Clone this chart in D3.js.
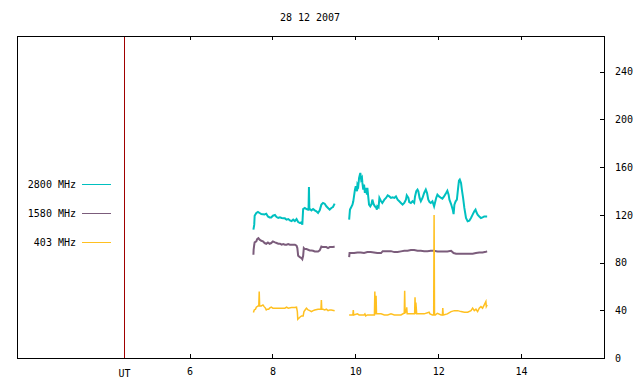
<!DOCTYPE html>
<html>
<head>
<meta charset="utf-8">
<script src="https://d3js.org/d3.v7.min.js"></script>
<style>
  body { margin: 0; background: #fff; }
  svg { display: block; }
  text { font-family: "DejaVu Sans Mono", monospace; font-size: 10px; fill: #000; }
</style>
</head>
<body>
<div class="chart"></div>
<script>
// radio flux, 28 12 2007 -- [UT hours, value]
var title = "28 12 2007";
var xTicks = [6, 8, 10, 12, 14];
var yTicks = [0, 40, 80, 120, 160, 200, 240];
var utHour = 4.43;
var names = ["2800 MHz", "1580 MHz", "403 MHz"];
var colors = ["#00c0c0", "#7b5c7b", "#ffc020"];

var f2800a = [[7.54,107.6],[7.56,111.8],[7.57,119.3],[7.61,121.6],[7.65,122.4],[7.69,121.6],[7.73,120.7],[7.81,120.4],[7.85,121],[7.89,118.7],[7.93,117.9],[7.97,117.9],[8.01,119.3],[8.06,119.9],[8.10,118.2],[8.14,117.4],[8.18,117.9],[8.22,117.4],[8.26,117.1],[8.30,117.1],[8.34,116],[8.38,116.5],[8.42,115.4],[8.46,114.8],[8.50,116],[8.54,114.8],[8.58,116.5],[8.62,114],[8.66,113.2],[8.70,113.7],[8.72,111.8],[8.74,124.9],[8.78,125.8],[8.82,124.9],[8.86,124.4],[8.87,124.4],[8.88,143.4],[8.89,124.9],[8.90,124.9],[8.94,123.8],[8.98,124.9],[9.02,123.8],[9.06,123],[9.10,121.6],[9.14,123.8],[9.18,128.6],[9.22,130],[9.26,129.4],[9.30,127.2],[9.34,125.8],[9.38,124.4],[9.42,125.8],[9.46,126.6],[9.50,129.4]];
var f2800b = [[9.85,116.0],[9.87,124.4],[9.89,125.8],[9.93,128.6],[9.95,131.4],[9.99,141.2],[10.01,144.0],[10.04,139.8],[10.05,145.4],[10.07,144.0],[10.09,151.0],[10.11,153.8],[10.12,155.2],[10.14,149.6],[10.16,151.0],[10.17,146.8],[10.19,141.2],[10.21,145.4],[10.23,138.4],[10.25,142.6],[10.28,137.0],[10.29,142.6],[10.31,135.5],[10.33,128.6],[10.36,127.2],[10.39,129.1],[10.41,132.8],[10.44,129.1],[10.47,127.2],[10.50,126.3],[10.52,124.4],[10.53,127.2],[10.56,126.3],[10.58,134.2],[10.62,131.4],[10.65,130.0],[10.70,132.8],[10.74,134.2],[10.78,136.4],[10.82,135.5],[10.86,134.2],[10.90,134.7],[10.94,134.2],[10.98,135.5],[11.02,132.8],[11.06,131.4],[11.10,130.0],[11.14,128.6],[11.18,130.0],[11.22,132.8],[11.24,136.4],[11.28,134.2],[11.30,130.8],[11.34,130.0],[11.38,131.4],[11.42,130.0],[11.44,135.5],[11.47,139.8],[11.50,141.2],[11.52,139.8],[11.55,134.2],[11.58,131.4],[11.62,134.2],[11.66,138.4],[11.70,141.2],[11.73,138.4],[11.76,132.8],[11.79,130.8],[11.82,130.0],[11.86,131.4],[11.90,127.2],[11.92,130.0],[11.95,134.2],[11.98,137.0],[12.02,135.5],[12.07,134.2],[12.10,133.6],[12.14,135.5],[12.19,138.4],[12.22,140.3],[12.25,137.0],[12.27,132.8],[12.31,129.1],[12.35,124.4],[12.37,120.7],[12.39,128.6],[12.42,131.4],[12.45,132.8],[12.48,142.6],[12.50,148.7],[12.52,149.6],[12.55,146.8],[12.57,141.2],[12.60,134.2],[12.63,125.8],[12.67,117.4],[12.71,114.6],[12.75,115.1],[12.79,117.4],[12.83,120.2],[12.87,123.0],[12.90,124.4],[12.92,122.4],[12.95,120.2],[12.99,118.7],[13.03,117.4],[13.07,117.9],[13.11,118.7],[13.15,118.7],[13.18,118.7]];

var f1580a = [[7.54,86.6],[7.545,90.8],[7.56,95.0],[7.57,96.9],[7.61,97.8],[7.63,99.7],[7.66,100.5],[7.69,99.2],[7.73,98.3],[7.77,97.8],[7.81,96.4],[7.85,95.8],[7.89,96.9],[7.93,95.8],[7.97,96.4],[8.01,97.8],[8.06,96.9],[8.10,96.4],[8.14,95.8],[8.18,95.8],[8.22,95.0],[8.26,95.5],[8.30,95.0],[8.34,95.0],[8.38,95.5],[8.42,95.0],[8.46,95.0],[8.50,95.0],[8.54,95.0],[8.58,94.1],[8.60,92.2],[8.62,85.7],[8.66,84.6],[8.70,83.8],[8.72,82.9],[8.74,85.7],[8.756,92.2],[8.78,91.3],[8.82,91.3],[8.86,90.8],[8.90,90.2],[8.94,90.2],[8.98,89.9],[9.02,89.3],[9.06,89.3],[9.10,89.3],[9.14,90.2],[9.18,93.5],[9.22,93.0],[9.26,93.0],[9.30,93.0],[9.34,92.2],[9.38,93.0],[9.42,93.0],[9.46,93.0],[9.50,93.5]];
var f1580b = [[9.85,84.6],[9.86,88.0],[9.89,88.0],[9.97,88.0],[10.05,88.5],[10.13,88.5],[10.21,88.0],[10.29,88.8],[10.37,88.8],[10.45,88.5],[10.53,88.0],[10.62,88.0],[10.66,89.6],[10.70,89.6],[10.78,89.6],[10.86,89.6],[10.94,88.8],[11.02,88.8],[11.10,89.4],[11.18,89.9],[11.26,89.9],[11.34,90.5],[11.42,90.5],[11.50,89.9],[11.58,89.9],[11.66,89.6],[11.74,89.6],[11.82,89.9],[11.90,89.9],[11.98,89.4],[12.07,89.4],[12.14,89.4],[12.22,89.4],[12.31,89.9],[12.37,88.0],[12.43,87.4],[12.51,87.4],[12.59,87.4],[12.67,87.4],[12.75,87.4],[12.83,87.4],[12.91,88.0],[12.99,88.5],[13.07,88.5],[13.15,89.1],[13.18,89.4]];

var f403a = [[7.54,38.1],[7.56,40.3],[7.59,40.9],[7.61,42.6],[7.65,43.7],[7.67,43.7],[7.68,55.7],[7.69,43.7],[7.73,43.7],[7.77,44.5],[7.80,43.1],[7.83,41.8],[7.85,40.3],[7.88,40.9],[7.91,40.9],[7.93,41.8],[7.97,42.6],[8.01,41.8],[8.06,41.8],[8.14,41.8],[8.22,41.8],[8.30,41.8],[8.34,42.6],[8.38,41.8],[8.46,42.3],[8.54,42.3],[8.58,42.6],[8.60,38.9],[8.61,32.5],[8.66,34.2],[8.70,35.3],[8.74,35.3],[8.76,38.9],[8.80,40.9],[8.82,41.8],[8.86,40.3],[8.90,39.7],[8.94,38.9],[8.98,39.7],[9.02,40.3],[9.10,40.9],[9.14,40.9],[9.17,40.9],[9.18,48.7],[9.19,40.9],[9.22,40.9],[9.26,40.3],[9.30,40.9],[9.34,39.7],[9.38,40.3],[9.42,40.3],[9.50,39.7]];
var f403b = [[9.85,36.1],[9.93,36.1],[9.94,36.1],[9.95,40.3],[9.96,36.1],[10.05,37.0],[10.09,36.1],[10.21,36.1],[10.23,37.0],[10.25,35.3],[10.29,36.1],[10.37,36.1],[10.45,36.1],[10.46,36.1],[10.47,55.7],[10.48,37.0],[10.49,37.0],[10.50,52.1],[10.51,37.0],[10.62,37.0],[10.70,36.1],[10.78,36.1],[10.86,37.0],[10.94,36.1],[11.02,36.1],[11.10,36.1],[11.17,37.5],[11.18,37.5],[11.19,56.3],[11.20,37.5],[11.22,38.9],[11.23,38.9],[11.24,42.6],[11.25,37.0],[11.34,37.0],[11.43,37.0],[11.44,51.0],[11.45,37.0],[11.46,46.5],[11.48,37.0],[11.58,37.0],[11.66,37.0],[11.78,38.4],[11.80,37.0],[11.86,36.1],[11.89,36.1],[11.90,120],[11.91,36.1],[11.93,36.1],[11.98,37.5],[12.07,36.1],[12.10,36.1],[12.11,41.8],[12.12,36.1],[12.22,37.0],[12.31,38.9],[12.39,39.7],[12.47,39.7],[12.55,38.9],[12.63,38.4],[12.71,38.4],[12.79,39.7],[12.83,41.8],[12.87,39.7],[12.91,40.9],[12.95,38.9],[12.99,41.8],[13.03,43.1],[13.07,41.8],[13.11,44.5],[13.15,47.3],[13.16,43.1],[13.18,44.5]];

var series = [[f2800a, f2800b], [f1580a, f1580b], [f403a, f403b]];

var svgWidth = 640;
var svgHeight = 384;
var margin = { top: 36, right: 36, bottom: 26, left: 17 };
var width = svgWidth - margin.left - margin.right;
var height = svgHeight - margin.top - margin.bottom;

var svg = d3.select(".chart")
  .append("svg")
  .attr("width", svgWidth)
  .attr("height", svgHeight);

var chartGroup = svg.append("g")
  .attr("transform", `translate(${margin.left}, ${margin.top})`);

var x = d3.scaleLinear().domain([1.835, 16]).range([0, width]);
var y = d3.scaleLinear().domain([0, 270]).range([height, 0]);

// title
svg.append("text")
  .attr("x", 310)
  .attr("y", 21)
  .attr("text-anchor", "middle")
  .text(title);

// ticks (inside, mirrored on top)
chartGroup.append("g")
  .attr("transform", `translate(0, ${height})`)
  .call(d3.axisBottom(x).tickValues(xTicks).tickSizeInner(-4).tickSizeOuter(0).tickPadding(10).tickFormat(d3.format("d")))
  .call(g => g.select(".domain").remove());

chartGroup.append("g")
  .call(d3.axisTop(x).tickValues(xTicks).tickSizeInner(-4).tickSizeOuter(0).tickFormat(""))
  .call(g => g.select(".domain").remove());

chartGroup.append("g")
  .attr("transform", `translate(${width}, 0)`)
  .call(d3.axisRight(y).tickValues(yTicks).tickSizeInner(-4).tickSizeOuter(0).tickPadding(11))
  .call(g => g.select(".domain").remove());

chartGroup.selectAll(".tick line").attr("stroke", "#000").attr("shape-rendering", "crispEdges");
chartGroup.selectAll(".tick text")
  .style("font-family", "'DejaVu Sans Mono', monospace")
  .style("font-size", "10px")
  .attr("fill", "#000");

// UT marker
chartGroup.append("line")
  .attr("x1", x(utHour)).attr("x2", x(utHour))
  .attr("y1", 0).attr("y2", height)
  .attr("stroke", "#a00000")
  .attr("shape-rendering", "crispEdges");

chartGroup.append("text")
  .attr("x", x(utHour))
  .attr("y", height + 19)
  .attr("text-anchor", "middle")
  .text("UT");

// series
var line = d3.line()
  .x(d => x(d[0]))
  .y(d => y(d[1]));

series.forEach(function(segs, i) {
  segs.forEach(function(seg) {
    chartGroup.append("path")
      .datum(seg)
      .attr("fill", "none")
      .attr("stroke", colors[i])
      .attr("stroke-width", i == 2 ? 1.5 : 2)
      .attr("stroke-linejoin", "miter")
      .attr("d", line);
  });
});

// legend
names.forEach(function(name, i) {
  var ly = 184.5 + i * 29;
  svg.append("text")
    .attr("x", 76)
    .attr("y", ly + 3.5)
    .attr("text-anchor", "end")
    .text(name);
  svg.append("line")
    .attr("x1", 82).attr("x2", 111)
    .attr("y1", ly).attr("y2", ly)
    .attr("stroke", colors[i]);
});

// frame
chartGroup.append("rect")
  .attr("x", 0.5).attr("y", 0.5)
  .attr("width", width).attr("height", height)
  .attr("fill", "none")
  .attr("stroke", "#000")
  .attr("shape-rendering", "crispEdges");
</script>
</body>
</html>
